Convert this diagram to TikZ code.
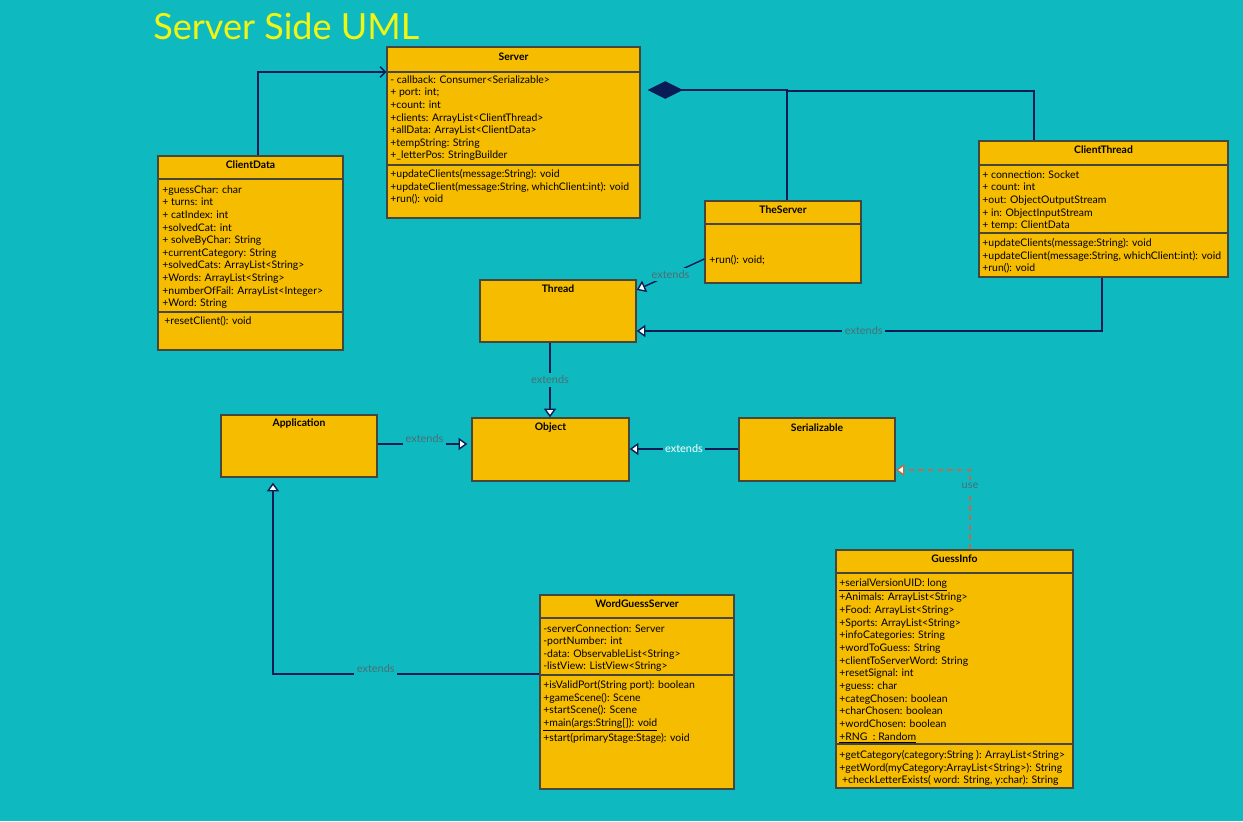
\documentclass[tikz,border=0pt]{standalone}
\usepackage{fontspec}
\setmainfont{Lato}
\usetikzlibrary{arrows.meta}
\definecolor{bgteal}{RGB}{14,186,192}
\definecolor{clsfill}{RGB}{245,188,0}
\definecolor{clsline}{RGB}{70,70,60}
\definecolor{linknavy}{RGB}{10,28,85}
\definecolor{lblgray}{RGB}{75,110,115}
\definecolor{usebrown}{RGB}{185,110,80}
\definecolor{titleyellow}{RGB}{240,245,20}
\begin{document}
\begin{tikzpicture}[x=0.02cm,y=-0.02cm]
\tikzstyle{cls}=[draw=clsline,fill=clsfill,line width=0.8pt,inner sep=0pt]
\tikzstyle{ctitle}=[font=\fontsize{5.9}{7}\selectfont\bfseries,inner sep=0pt]
\tikzstyle{members}=[anchor=north west,align=left,inner sep=0pt,font=\fontsize{5.95}{7.2}\selectfont]
\tikzstyle{divline}=[draw=clsline,line width=0.8pt]
\tikzstyle{link}=[draw=linknavy,line width=0.8pt]
\tikzstyle{extarrow}=[link,-{Triangle[fill=white,length=5pt,width=7pt]}]
\tikzstyle{usedep}=[draw=usebrown,line width=0.8pt,dash pattern=on 3pt off 2.5pt,-{Triangle[fill=white,length=5pt,width=7pt]}]
\tikzstyle{lbl}=[fill=bgteal,text=lblgray,font=\fontsize{6.2}{7}\selectfont,inner sep=1.5pt]

\fill[bgteal] (0,0) rectangle (1243,821);
\useasboundingbox (0,0) rectangle (1243,821);

\node[text=titleyellow,font=\fontsize{20.5}{24}\selectfont,anchor=base west,inner sep=0pt](title) at (153,40) {Server Side UML};

% class boxes
\node[cls,minimum width=5.06cm,minimum height=3.42cm](srv) at (513.5,132.5) {};
\node[cls,minimum width=3.7cm,minimum height=3.88cm](cdat) at (250.5,253) {};
\node[cls,minimum width=4.98cm,minimum height=2.72cm](cthr) at (1103.5,209) {};
\node[cls,minimum width=3.12cm,minimum height=1.64cm](tsrv) at (783,242) {};
\node[cls,minimum width=3.12cm,minimum height=1.24cm](thr) at (558,311) {};
\node[cls,minimum width=3.14cm,minimum height=1.26cm](obj) at (550.5,449.5) {};
\node[cls,minimum width=3.12cm,minimum height=1.26cm](ser) at (817,449.5) {};
\node[cls,minimum width=3.12cm,minimum height=1.24cm](app) at (299,446) {};
\node[cls,minimum width=3.88cm,minimum height=3.88cm](wgs) at (637,692) {};
\node[cls,minimum width=4.74cm,minimum height=4.76cm](ginf) at (954.5,669) {};

% compartments
\draw[divline] (srv.west |- 0,72) -- (srv.east |- 0,72);
\draw[divline] (srv.west |- 0,165) -- (srv.east |- 0,165);
\draw[divline] (cdat.west |- 0,179) -- (cdat.east |- 0,179);
\draw[divline] (cdat.west |- 0,312) -- (cdat.east |- 0,312);
\draw[divline] (cthr.west |- 0,165) -- (cthr.east |- 0,165);
\draw[divline] (cthr.west |- 0,233) -- (cthr.east |- 0,233);
\draw[divline] (tsrv.west |- 0,224) -- (tsrv.east |- 0,224);
\draw[divline] (wgs.west |- 0,618) -- (wgs.east |- 0,618);
\draw[divline] (wgs.west |- 0,675) -- (wgs.east |- 0,675);
\draw[divline] (ginf.west |- 0,573) -- (ginf.east |- 0,573);
\draw[divline] (ginf.west |- 0,744) -- (ginf.east |- 0,744);

% class names
\node[ctitle](srv-t) at (513.5,57) {Server};
\node[ctitle](cdat-t) at (250.5,165) {ClientData};
\node[ctitle](cthr-t) at (1103.5,150) {ClientThread};
\node[ctitle](tsrv-t) at (783,210) {TheServer};
\node[ctitle](thr-t) at (558,289) {Thread};
\node[ctitle](obj-t) at (550.5,428) {Object};
\node[ctitle](ser-t) at (817,428) {Serializable};
\node[ctitle](app-t) at (299,424) {Application};
\node[ctitle](wgs-t) at (637,604) {WordGuessServer};
\node[ctitle](ginf-t) at (954.5,559) {GuessInfo};

% members
\node[members](srv-a) at (390,75) {- callback: Consumer<Serializable>\\+ port: int;\\+count: int\\+clients: ArrayList<ClientThread>\\+allData: ArrayList<ClientData>\\+tempString: String\\+\_letterPos: StringBuilder};
\node[members](srv-m) at (390,169) {+updateClients(message:String): void\\+updateClient(message:String, whichClient:int): void\\+run(): void};
\node[members](cdat-a) at (162,185) {+guessChar: char\\+ turns: int\\+ catIndex: int\\+solvedCat: int\\+ solveByChar: String\\+currentCategory: String\\+solvedCats: ArrayList<String>\\+Words: ArrayList<String>\\+numberOfFail: ArrayList<Integer>\\+Word: String};
\node[members](cdat-m) at (164,316) {+resetClient(): void};
\node[members](cthr-a) at (982,170) {+ connection: Socket\\+ count: int\\+out: ObjectOutputStream\\+ in: ObjectInputStream\\+ temp: ClientData};
\node[members](cthr-m) at (982,238) {+updateClients(message:String): void\\+updateClient(message:String, whichClient:int): void\\+run(): void};
\node[members](tsrv-m) at (709,255) {+run(): void;};
\node[members](wgs-a) at (543,624) {-serverConnection: Server\\-portNumber: int\\-data: ObservableList<String>\\-listView: ListView<String>};
\node[members](wgs-m) at (543,680) {+isValidPort(String port): boolean\\+gameScene(): Scene\\+startScene(): Scene\\\underline{+main(args:String[]): void}\\+start(primaryStage:Stage): void};
\node[members](ginf-a) at (839,578) {\underline{+serialVersionUID: long}\\+Animals: ArrayList<String>\\+Food: ArrayList<String>\\+Sports: ArrayList<String>\\+infoCategories: String\\+wordToGuess: String\\+clientToServerWord: String\\+resetSignal: int\\+guess: char\\+categChosen: boolean\\+charChosen: boolean\\+wordChosen: boolean\\\underline{+RNG\ \ : Random}};
\node[members](ginf-m) at (839,750) {+getCategory(category:String ): ArrayList<String>\\+getWord(myCategory:ArrayList<String>): String\\\ +checkLetterExists( word: String, y:char): String};

% associations
\draw[link,-{Straight Barb[length=3pt,width=6pt]}] (cdat.north -| 258,0) |- (srv.west |- 0,72);
\draw[link,{Diamond[length=20pt,width=10pt,fill=linknavy]}-,shorten <=0.14cm] (srv.east |- 0,90) -| (tsrv.north -| 787,0);
\coordinate (jn) at (787,91);
\draw[link] (jn) -| (cthr.north -| 1034,0);

% generalisations
\draw[extarrow] (tsrv.west |- 0,259) -- node[lbl]{extends} (thr.east |- 0,290);
\draw[extarrow] (cthr.south -| 1102,0) |- node[lbl,pos=0.756]{extends} (thr.east |- 0,331);
\draw[extarrow] (thr.south -| 550,0) -- node[lbl]{extends} (obj.north -| 550,0);
\draw[extarrow,shorten >=0.08cm] (app.east |- 0,444) -- node[lbl,yshift=3pt]{extends} (obj.west |- 0,444);
\draw[extarrow] (ser.west |- 0,449) -- node[lbl,text=white]{extends} (obj.east |- 0,449);
\draw[extarrow,shorten >=0.1cm] (wgs.west |- 0,674) -| node[lbl,pos=0.307,yshift=3pt]{extends} (app.south -| 273,0);
\draw[usedep] (ginf.north -| 970,0) |- node[lbl,pos=0.4]{use} (ser.east |- 0,470);
\end{tikzpicture}
\end{document}
